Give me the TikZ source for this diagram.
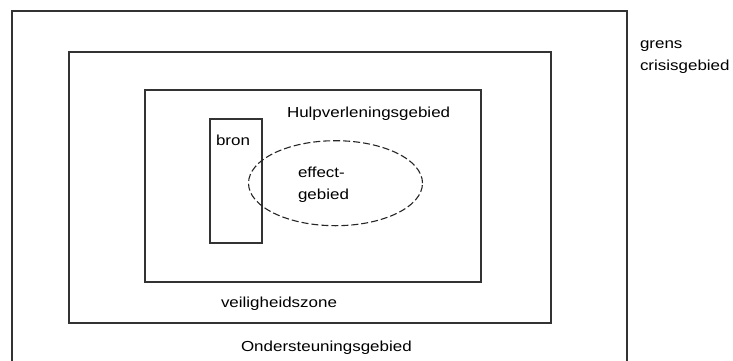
\documentclass[tikz,border=0pt]{standalone}
\usepackage{fontspec}
\setmainfont[FakeStretch=1.17]{Liberation Sans}
\usetikzlibrary{shapes.geometric}
\tikzset{
  area/.style={draw=black!80, line width=1.3pt, inner sep=0pt, outer sep=0pt, rectangle},
  zone/.style={draw=black!85, line width=1.1pt, inner sep=0pt, outer sep=0pt, ellipse, dash pattern=on 7pt off 3pt},
  lbl/.style={inner sep=0pt, outer sep=0pt, anchor=base west, font=\fontsize{14.5}{22}\selectfont, text=black}
}
\begin{document}
\begin{tikzpicture}[x=1pt, y=-1pt]
\useasboundingbox (0,0) rectangle (733,360);
\clip (0,0) rectangle (733,360);
\node[area, minimum width=615pt, minimum height=400pt] (outer) at (319.5,211) {};
\node[area, minimum width=482pt, minimum height=271pt] (middle) at (310,187.5) {};
\node[area, minimum width=336pt, minimum height=192pt] (inner) at (313,186) {};
\node[area, minimum width=52pt, minimum height=124pt] (bron) at (236,181) {};
\node[zone, minimum width=174pt, minimum height=85pt] (effect) at (335.5,183.2) {};
\node[lbl] (thulp) at (287,117) {Hulpverleningsgebied};
\node[lbl] (tbron) at (216,145) {bron};
\node[lbl] (teff1) at (298,177) {effect-};
\node[lbl] (teff2) at (298,199.5) {gebied};
\node[lbl] (tveil) at (221,307) {veiligheidszone};
\node[lbl] (tonder) at (241,351) {Ondersteuningsgebied};
\node[lbl] (tgrens) at (640,48) {grens};
\node[lbl] (tcris) at (640,70) {crisisgebied};
\end{tikzpicture}
\end{document}
